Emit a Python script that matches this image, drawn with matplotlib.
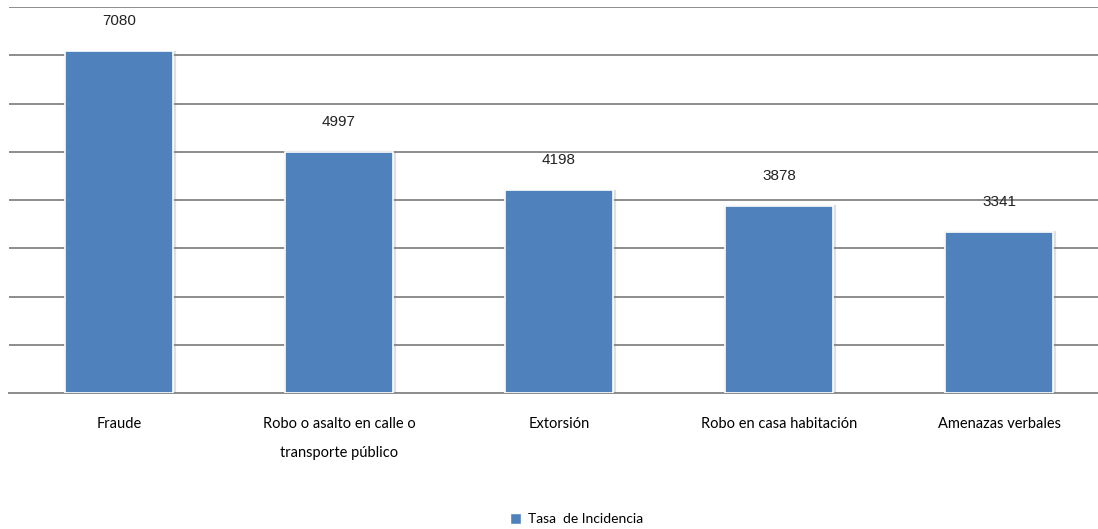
import matplotlib
matplotlib.use("Agg")
import matplotlib.pyplot as plt
import matplotlib.patheffects as pe
from matplotlib.patches import Patch

categories = ["Fraude", "Robo o asalto en calle o\ntransporte público", "Extorsión",
              "Robo en casa habitación", "Amenazas verbales"]
values = [7080, 4997, 4198, 3878, 3341]
series_name = "Tasa  de Incidencia"

fig = plt.figure(figsize=(10.98, 5.29), dpi=100)
ax = fig.add_axes([9/1098, 136/529, 1 - 9/1098, 386/529])

x = list(range(len(categories)))
bars = ax.bar(x, values, width=0.49, color="#4F81BD", edgecolor="white", linewidth=1.2, zorder=3)
for b in bars:
    b.set_path_effects([pe.SimpleLineShadow(offset=(0.8, -0.8), shadow_color="gray", alpha=0.25, linewidth=3),
                        pe.Normal()])

ax.set_ylim(0, 8000)
ax.set_xlim(-0.5, 4.45)
ax.set_yticks(range(0, 8001, 1000))
ax.yaxis.grid(True, color="#8c8c8c", linewidth=1.4, zorder=0)
ax.tick_params(axis="y", left=False, labelleft=False)
ax.tick_params(axis="x", bottom=False, pad=14)
for s in ["top", "right", "left"]:
    ax.spines[s].set_visible(False)
ax.spines["bottom"].set_color("#8c8c8c")
ax.spines["bottom"].set_linewidth(1.4)

ax.set_xticks(x)
ax.set_xticklabels(categories, fontsize=10.5, family="Lato", linespacing=2.3, va="top")

for xi, v in zip(x, values):
    ax.annotate(str(v), (xi, v), xytext=(0, 30), textcoords="offset pixels",
                ha="center", va="center", fontsize=11, family="Liberation Sans", color="#222222")

leg = fig.legend(handles=[Patch(facecolor="#4F81BD", edgecolor="white")], labels=[series_name],
                 loc="center", bbox_to_anchor=(0.525, 10/529), frameon=False,
                 prop={"family": "Lato", "size": 10}, handlelength=0.85, handleheight=0.85,
                 handletextpad=0.5)

fig.savefig("out.png", dpi=100)
